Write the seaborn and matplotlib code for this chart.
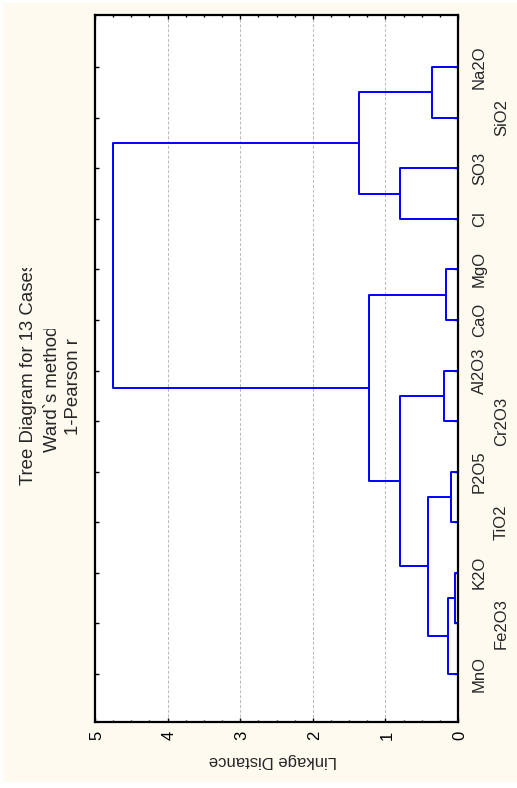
import numpy as np
import pandas as pd
import matplotlib
matplotlib.use("Agg")
import matplotlib.pyplot as plt
import seaborn as sns
from matplotlib.patches import Rectangle
from matplotlib.transforms import Bbox, TransformedBbox, blended_transform_factory
from matplotlib.ticker import FixedLocator, MultipleLocator

# ---------------- data ----------------
leaf_labels = ["Na2O", "SiO2", "SO3", "Cl", "MgO", "CaO", "Al2O3",
               "Cr2O3", "P2O5", "TiO2", "K2O", "Fe2O3", "MnO"]
# linkage: cluster ids 0..12 are leaves, 13.. are new clusters in merge order
merge_a = [10, 8, 13, 4, 6, 0, 14, 17, 2, 16, 18, 22]
merge_b = [11, 9, 12, 5, 7, 1, 15, 19, 3, 20, 21, 23]
merge_dist = [0.035, 0.09, 0.135, 0.17, 0.195, 0.355, 0.415, 0.795, 0.80, 1.22, 1.37, 4.75]
dist_ticks = [0, 1, 2, 3, 4, 5]
title_lines = ["Tree Diagram for 13 Cases", "Ward`s method", "1-Pearson r"]
axis_label = "Linkage Distance"

# ---------------- build dendrogram segments ----------------
n = len(leaf_labels)
pos = {i: i + 1.0 for i in range(n)}
hgt = {i: 0.0 for i in range(n)}
rows = []
for k, (a, b, d) in enumerate(zip(merge_a, merge_b, merge_dist)):
    pa, pb = pos[a], pos[b]
    pts = [(hgt[a], pa), (d, pa), (d, pb), (hgt[b], pb)]
    for j, (x, y) in enumerate(pts):
        rows.append(dict(link=k, order=j, dist=x, pos=y))
    pos[n + k] = (pa + pb) / 2.0
    hgt[n + k] = d
df = pd.DataFrame(rows)

# ---------------- style ----------------
sns.set_theme(style="white")
plt.rcParams['font.family'] = ['Liberation Sans', 'DejaVu Sans']

W, H = 517, 788
cream = "#FEFAF0"
fig = plt.figure(figsize=(W / 100, H / 100), dpi=100, facecolor="white")
fig.patches.append(Rectangle((3 / W, 1 - 782 / H), (W - 3) / W, (782 - 3) / H,
                             transform=fig.transFigure, facecolor=cream,
                             edgecolor="none", zorder=-10))

left, right, top, bottom = 95, 458, 15, 722
ax = fig.add_axes([left / W, 1 - bottom / H, (right - left) / W, (bottom - top) / H])
ax.set_facecolor("white")

sns.lineplot(data=df, x="dist", y="pos", units="link", estimator=None, sort=False,
             color="#0000FF", linewidth=1.4, ax=ax, legend=False)

ax.set_xlim(5, 0)
ax.set_ylim(13.95, -0.03)
ax.set_xlabel("")
ax.set_ylabel("")

ax.xaxis.set_major_locator(FixedLocator(dist_ticks))
ax.xaxis.set_minor_locator(MultipleLocator(0.25))
ax.set_xticklabels([str(t) for t in dist_ticks])
ax.tick_params(axis="x", which="major", direction="in", length=3.2, width=1,
               top=True, bottom=True, labelsize=12, pad=6.5, colors="black")
ax.tick_params(axis="x", which="minor", direction="in", length=1.6, width=1,
               top=True, bottom=True, colors="black")
for lbl in ax.get_xticklabels():
    lbl.set_rotation(90)
    lbl.set_rotation_mode("anchor")
    lbl.set_ha("right")
    lbl.set_va("center_baseline")

ax.yaxis.set_major_locator(FixedLocator(range(1, n + 1)))
ax.tick_params(axis="y", which="major", direction="in", length=2.6, width=1,
               left=True, right=True, labelleft=False, labelright=False, colors="black")

ax.grid(axis="x", which="major", color="#b8b8b8", linestyle=(0, (3, 2)), linewidth=0.7)
ax.grid(axis="y", visible=False)
for sp in ax.spines.values():
    sp.set_color("black")
    sp.set_linewidth(1.6)

# leaf labels (staggered rows, as in the reference)
stagger = [0, 1, 0, 0, 0, 0, 0, 1, 0, 1, 0, 1, 0]
row_x = [(484 - left) / (right - left), (506 - left) / (right - left)]
trans = blended_transform_factory(ax.transAxes, ax.transData)
for i, lab in enumerate(leaf_labels):
    ax.text(row_x[stagger[i]], i + 1, lab, rotation=90, rotation_mode="anchor",
            ha="center", va="baseline", fontsize=12, transform=trans, clip_on=False)

# title lines (each clipped at the top like the original)
title_x = [33, 57, 78]
title_y = [485, 452, 435]
clip_top = [268, 329, 300]
for line, tx, ty, ct in zip(title_lines, title_x, title_y, clip_top):
    t = fig.text(tx / W, 1 - ty / H, line, rotation=90, rotation_mode="anchor",
                 ha="left", va="baseline", fontsize=13.4)
    clip = TransformedBbox(Bbox.from_extents(0, 0, 1, 1 - ct / H), fig.transFigure)
    t.set_clip_box(clip)
    t.set_clip_on(True)

fig.text(273 / W, 1 - 756 / H, axis_label, rotation=180, rotation_mode="anchor",
         ha="center", va="baseline", fontsize=12)

fig.savefig("out.png", dpi=100, facecolor=fig.get_facecolor())
